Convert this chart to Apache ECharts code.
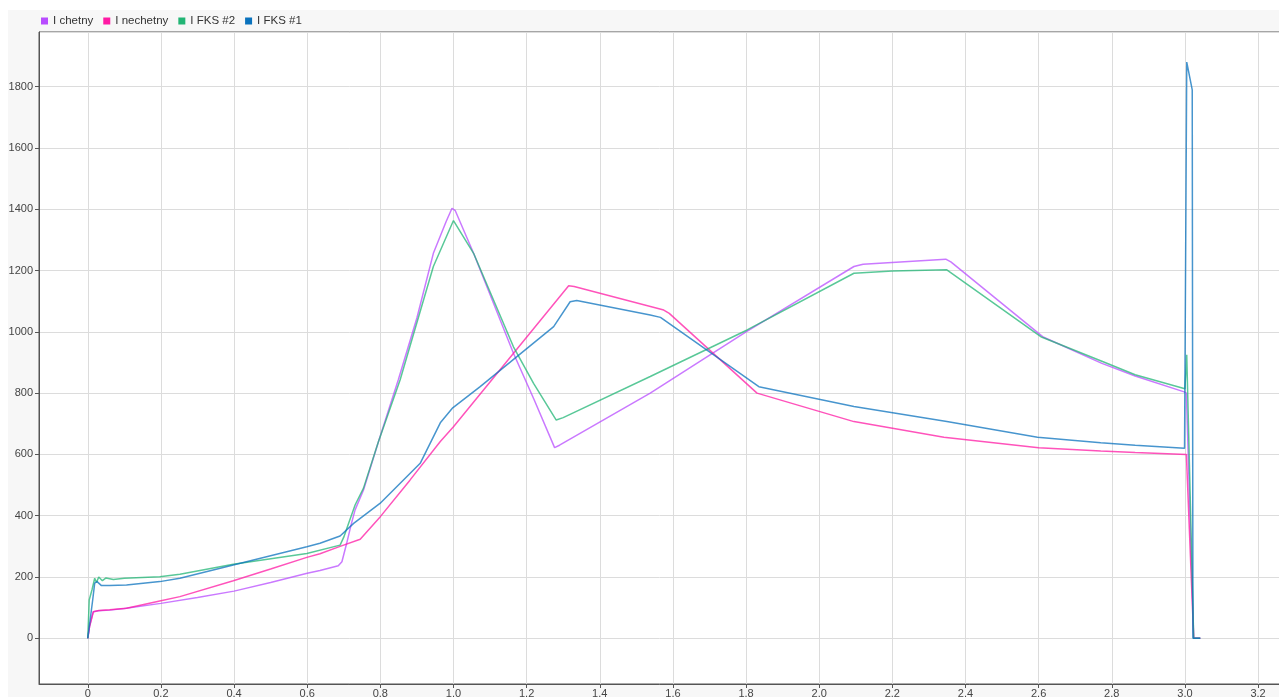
<!DOCTYPE html>
<html>
<head>
<meta charset="utf-8">
<script src="https://cdn.jsdelivr.net/npm/echarts@6/dist/echarts.min.js"></script>
<style>
html,body{margin:0;padding:0;background:#fff;}
#c{width:1279px;height:697px;}
</style>
</head>
<body>
<div id="c"></div>
<script>
const seriesNames = ['I chetny', 'I nechetny', 'I FKS #2', 'I FKS #1'];
const seriesColors = ['#b84cff', '#ff1aa4', '#22b575', '#0a72bd'];

const iChetny = [[0,0],[0.005,40],[0.015,87],[0.03,90],[0.06,92],[0.1,97],[0.2,114],[0.3,133],[0.4,154],[0.5,182],[0.6,212],[0.635,221],[0.685,237],[0.695,250],[0.708,310],[0.72,370],[0.731,419],[0.754,484],[0.795,642],[0.849,843],[0.9,1045],[0.945,1256],[0.98,1360],[0.996,1403],[1.005,1395],[1.055,1256],[1.164,930],[1.22,780],[1.2765,622],[1.29,630],[1.538,800],[1.8,1000],[2.095,1213],[2.12,1220],[2.346,1237],[2.36,1228],[2.611,984],[2.773,897],[2.864,856],[2.998,804],[3.004,800],[3.024,0],[3.042,0]];

const iNechetny = [[0,0],[0.005,38],[0.0155,87],[0.03,91],[0.06,93],[0.106,98],[0.197,122],[0.252,136],[0.398,188],[0.5,226],[0.599,264],[0.635,276],[0.69,300],[0.745,323],[0.8,397],[0.881,516],[0.964,642],[1.0,690],[1.315,1150],[1.33,1148],[1.575,1071],[1.59,1060],[1.83,800],[2.095,707],[2.341,656],[2.6,622],[2.77,611],[2.864,606],[3.004,600],[3.024,0],[3.042,0]];

const iFks2 = [[0,0],[0.002,60],[0.004,125],[0.012,160],[0.019,196],[0.024,182],[0.03,200],[0.04,188],[0.05,197],[0.07,192],[0.1,196],[0.197,201],[0.252,209],[0.398,242],[0.599,277],[0.69,304],[0.7,330],[0.71,364],[0.731,435],[0.754,490],[0.795,642],[0.854,843],[0.945,1213],[1.0,1363],[1.055,1256],[1.164,951],[1.219,832],[1.281,712],[1.3,720],[1.538,854],[1.803,1006],[2.095,1191],[2.2,1198],[2.349,1202],[2.606,984],[2.773,904],[2.864,860],[3.0,814],[3.005,925],[3.024,0],[3.042,0]];

const iFks1 = [[0,0],[0.0135,125],[0.019,180],[0.0255,185],[0.0375,172],[0.06,172],[0.106,174],[0.197,185],[0.252,196],[0.398,239],[0.599,299],[0.635,310],[0.69,334],[0.727,375],[0.799,440],[0.909,571],[0.964,703],[0.998,752],[1.073,821],[1.274,1017],[1.319,1098],[1.337,1102],[1.538,1055],[1.566,1047],[1.835,821],[2.095,756],[2.349,707],[2.597,656],[2.77,638],[2.864,630],[2.999,620],[3.001,620],[3.005,1880],[3.020,1789],[3.022,0],[3.042,0]];

const allData = [iChetny, iNechetny, iFks2, iFks1];

const chart = echarts.init(document.getElementById('c'), null, {renderer: 'canvas'});
const font = 'Liberation Sans, Arial, sans-serif';
chart.setOption({
  animation: false,
  backgroundColor: '#ffffff',
  graphic: [{
    type: 'rect', z: -10, silent: true,
    shape: {x: 8, y: 10, width: 1280, height: 700},
    style: {fill: '#f7f7f7'}
  }],
  legend: {
    left: 41, top: 15, padding: 0,
    icon: 'rect', itemWidth: 7, itemHeight: 7, itemGap: 10,
    textStyle: {fontFamily: font, fontSize: 11.5, color: '#333'},
    data: seriesNames
  },
  grid: {
    left: 39, top: 32, right: -1, bottom: 13,
    containLabel: false, outerBoundsMode: 'none',
    show: true, backgroundColor: '#ffffff', borderColor: '#555', borderWidth: 1
  },
  xAxis: {
    type: 'value', min: -0.1333, max: 3.26, splitNumber: 17, minInterval: 0.2, maxInterval: 0.2,
    axisLine: {show: true, onZero: false, lineStyle: {color: '#555', width: 1}},
    axisTick: {show: true, length: 4, lineStyle: {color: '#555'}},
    axisLabel: {
      showMinLabel: false, showMaxLabel: false, margin: 4,
      fontFamily: font, fontSize: 11, color: '#444',
      formatter: v => (Math.abs(v) < 1e-9 ? '0' : v.toFixed(1))
    },
    splitLine: {show: true, lineStyle: {color: '#dcdcdc', width: 1}}
  },
  yAxis: {
    type: 'value', min: -149, max: 1978, splitNumber: 10, minInterval: 200, maxInterval: 200,
    axisLine: {show: true, onZero: false, lineStyle: {color: '#555', width: 1}},
    axisTick: {show: true, length: 4, lineStyle: {color: '#555'}},
    axisLabel: {
      showMinLabel: false, showMaxLabel: false, margin: 6,
      fontFamily: font, fontSize: 11, color: '#444',
      formatter: v => String(Math.round(v))
    },
    splitLine: {show: true, lineStyle: {color: '#dcdcdc', width: 1}}
  },
  series: allData.map((d, i) => ({
    name: seriesNames[i], type: 'line', data: d,
    showSymbol: false, symbol: 'none',
    itemStyle: {color: seriesColors[i]},
    lineStyle: {color: seriesColors[i], width: 1.5, opacity: 0.75}
  }))
});
</script>
</body>
</html>
